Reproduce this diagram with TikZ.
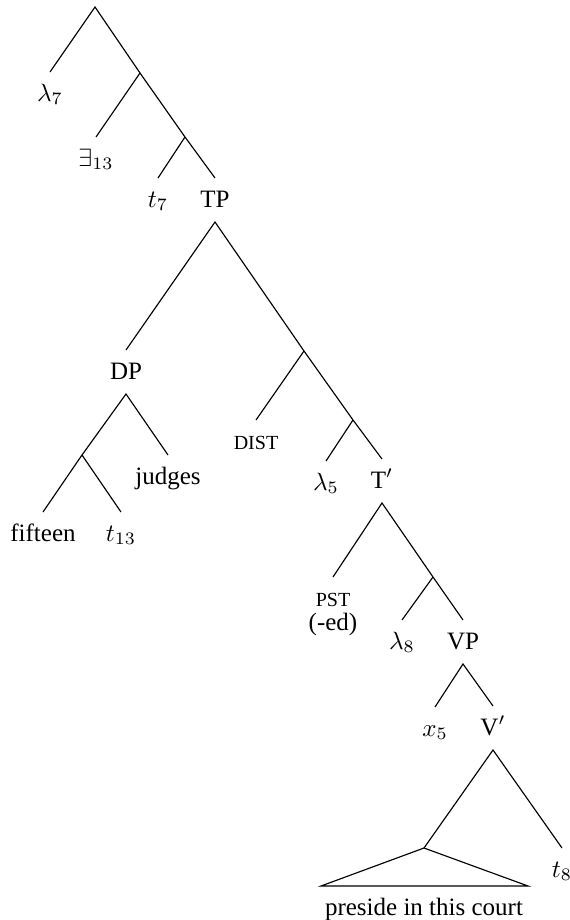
\documentclass[tikz,border=0pt]{standalone}
\usepackage[no-math]{fontspec}
\setmainfont{Liberation Serif}
\newcommand{\mysc}[1]{{\fontsize{8}{9.5}\selectfont #1}}
\begin{document}
\begin{tikzpicture}[x=0.4pt,y=-0.4pt,
  lab/.style={anchor=north,inner sep=1.6pt,outer sep=0pt,text height=10pt,text depth=4.4pt},
  edge/.style={line width=0.46pt}]
\useasboundingbox (0,0) rectangle (570,920);
% branch points
\coordinate (r0) at (95,7);
\coordinate (n1) at (140,73);
\coordinate (n2) at (185,137);
\coordinate (n3) at (304,351);
\coordinate (n4) at (353,420);
\coordinate (n5) at (82,455);
\coordinate (n6) at (433,577);
\coordinate (tri) at (424,848);
\coordinate (bl) at (321,886);
\coordinate (br) at (528,886);
% labels
\node[lab] (l7) at (50,72) {$\lambda_7$};
\node[lab] (e13) at (96,137) {$\exists_{13}$};
\node[lab] (t7) at (158,178) {$t_7$};
\node[lab] (tp) at (215,178) {TP};
\node[lab] (dp) at (126,350) {DP};
\node[lab] (dist) at (256,420) {\mysc{DIST}};
\node[lab] (l5) at (326,461) {$\lambda_5$};
\node[lab] (tb) at (382,459) {T$'$};
\node[lab] (judges) at (168,455) {judges};
\node[lab] (fifteen) at (43,512) {fifteen};
\node[lab] (t13) at (121,512) {$t_{13}$};
\node[lab] (pst) at (333,577) {\begin{tabular}[t]{@{}c@{}}\mysc{PST}\\[-2.3pt](-ed)\end{tabular}};
\node[lab] (l8) at (402,620) {$\lambda_8$};
\node[lab] (vp) at (463,620) {VP};
\node[lab] (x5) at (435,707) {$x_5$};
\node[lab] (vb) at (493,706) {V$'$};
\node[lab] (t8) at (562,848) {$t_8$};
\node[lab] (court) at (424,886) {preside in this court};
% edges
\draw[edge] (l7.north) -- (r0) -- (n1) -- (n2) -- (tp.north);
\draw[edge] (n1) -- (e13.north);
\draw[edge] (n2) -- (t7.north);
\draw[edge] (dp.north) -- (tp.south) -- (n3) -- (n4) -- (tb.north);
\draw[edge] (n3) -- (dist.north);
\draw[edge] (n4) -- (l5.north);
\draw[edge] (fifteen.north) -- (n5) -- (dp.south) -- (judges.north);
\draw[edge] (n5) -- (t13.north);
\draw[edge] (pst.north) -- (tb.south) -- (n6) -- (vp.north);
\draw[edge] (n6) -- (l8.north);
\draw[edge] (x5.north) -- (vp.south) -- (vb.north);
\draw[edge] (tri) -- (vb.south) -- (t8.north);
\draw[edge] (tri) -- (bl) -- (br) -- cycle;
\end{tikzpicture}
\end{document}
